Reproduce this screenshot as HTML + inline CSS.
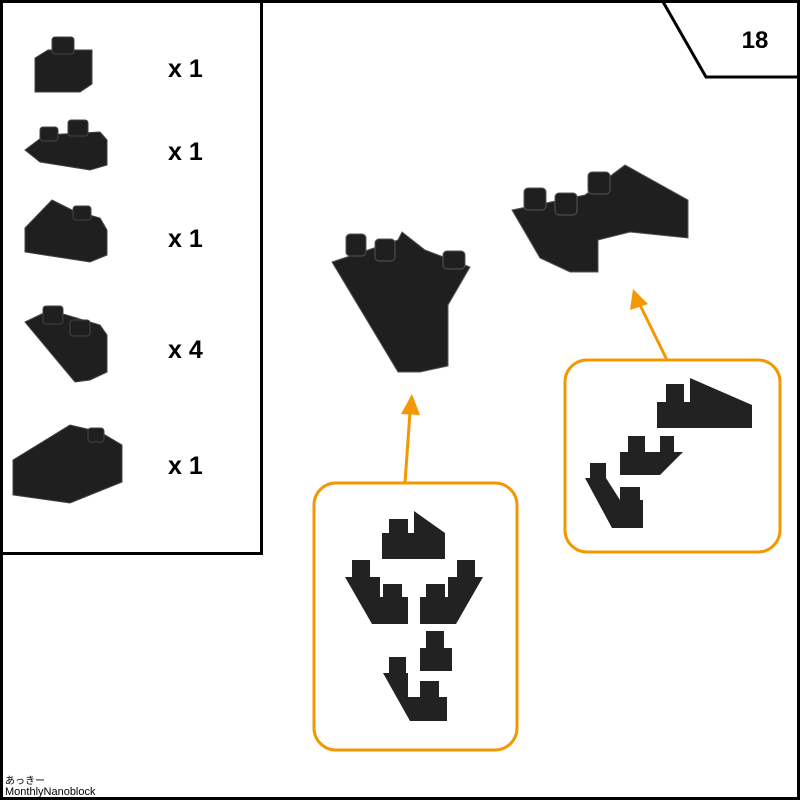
<!DOCTYPE html>
<html><head><meta charset="utf-8"><style>
html,body{margin:0;padding:0;background:#fff}
svg{display:block}
text{font-family:"Liberation Sans","Noto Sans CJK JP",sans-serif}
</style></head><body>
<svg width="800" height="800" viewBox="0 0 800 800" xmlns="http://www.w3.org/2000/svg">
<rect x="1.5" y="1.5" width="797" height="797" fill="#fff" stroke="#000" stroke-width="3"/>
<rect x="1.5" y="1.5" width="260" height="552" fill="#fff" stroke="#000" stroke-width="3"/>
<polyline points="662,0 706,77 800,77" fill="none" stroke="#000" stroke-width="3"/>
<text x="755" y="48" font-size="24" font-weight="bold" text-anchor="middle">18</text>

<g fill="#1f1f1f" stroke="#444" stroke-width="1">
<polygon points="35,58 48,50 92,50 92,84 80,92 35,92"/>
<rect x="52" y="37" width="22" height="17" rx="3"/>
<polygon points="25,150 45,135 100,132 107,140 107,165 90,170 40,162"/>
<rect x="40" y="127" width="18" height="14" rx="3"/>
<rect x="68" y="120" width="20" height="16" rx="3"/>
<polygon points="25,228 52,200 72,210 100,218 107,230 107,255 90,262 25,252"/>
<rect x="73" y="206" width="18" height="14" rx="3"/>
<polygon points="25,322 50,310 100,325 107,335 107,372 90,380 75,382"/>
<rect x="43" y="306" width="20" height="18" rx="3"/>
<rect x="70" y="320" width="20" height="16" rx="3"/>
<polygon points="13,460 70,425 100,432 122,445 122,482 70,503 13,495"/>
<rect x="88" y="428" width="16" height="14" rx="3"/>
</g>
<g font-size="25" font-weight="bold">
<text x="168" y="77">x 1</text>
<text x="168" y="160">x 1</text>
<text x="168" y="247">x 1</text>
<text x="168" y="358">x 4</text>
<text x="168" y="474">x 1</text>
</g>

<g fill="#1f1f1f" stroke="#555" stroke-width="1">
<polygon points="332,262 398,240 402,232 425,250 470,267 448,305 448,366 420,372 398,372"/>
<rect x="346" y="234" width="20" height="22" rx="4"/>
<rect x="375" y="239" width="20" height="22" rx="4"/>
<rect x="443" y="251" width="22" height="18" rx="4"/>
<polygon points="512,210 585,195 625,165 688,200 688,238 630,232 598,240 598,272 570,272 540,258"/>
<rect x="524" y="188" width="22" height="22" rx="4"/>
<rect x="555" y="193" width="22" height="22" rx="4"/>
<rect x="588" y="172" width="22" height="22" rx="4"/>
</g>

<g fill="none" stroke="#f39800" stroke-width="3">
<rect x="314" y="483" width="203" height="267" rx="22"/>
<rect x="565" y="360" width="215" height="192" rx="22"/>
<line x1="405" y1="483" x2="410" y2="412"/>
<line x1="667" y1="360" x2="640" y2="305"/>
</g>
<polygon points="401,414 412,394 420,415" fill="#f39800"/>
<polygon points="630,310 633,289 648,304" fill="#f39800"/>

<g fill="#222">
<rect x="389" y="519" width="19" height="15"/>
<polygon points="382,533 414,533 414,511 445,533 445,559 382,559"/>
<rect x="352" y="560" width="18" height="18"/>
<polygon points="345,577 380,577 380,597 408,597 408,624 372,624"/>
<rect x="383" y="584" width="19" height="14"/>
<rect x="457" y="560" width="18" height="18"/>
<polygon points="483,577 448,577 448,597 420,597 420,624 456,624"/>
<rect x="426" y="584" width="19" height="14"/>
<rect x="426" y="631" width="18" height="18"/>
<rect x="420" y="648" width="32" height="23"/>
<rect x="389" y="657" width="17" height="17"/>
<polygon points="383,673 408,673 408,697 447,697 447,721 410,721"/>
<rect x="420" y="681" width="19" height="17"/>
<rect x="666" y="384" width="18" height="18"/>
<polygon points="657,402 690,402 690,378 752,405 752,428 657,428"/>
<rect x="628" y="436" width="17" height="16"/>
<rect x="660" y="436" width="14" height="16"/>
<polygon points="620,452 683,452 660,475 620,475"/>
<rect x="590" y="463" width="16" height="16"/>
<polygon points="585,478 606,478 620,500 643,500 643,528 612,528"/>
<rect x="620" y="487" width="20" height="14"/>
</g>
<text x="5" y="784" font-size="10">あっきー</text>
<text x="5" y="795" font-size="11">MonthlyNanoblock</text>
</svg>
</body></html>
